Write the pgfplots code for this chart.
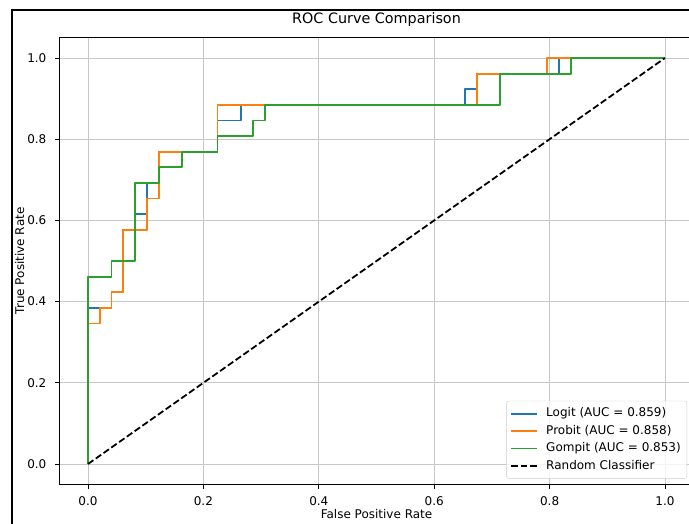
\documentclass[border=0pt]{standalone}
\usepackage{fontspec}
\setmainfont{DejaVu Sans}
\usepackage{pgfplots}
\pgfplotsset{compat=1.18}

\definecolor{logitc}{HTML}{1F77B4}
\definecolor{probitc}{HTML}{FF7F0E}
\definecolor{gompitc}{HTML}{2CA02C}
\definecolor{gridc}{HTML}{C8C8C8}

\begin{document}
\begin{tikzpicture}
\useasboundingbox (0bp,-524bp) rectangle (689bp,0bp);
% the screenshot cuts the axes off on the right, so the axis stops at the page edge
\begin{axis}[
    at={(59.15bp,-484.3bp)}, anchor=south west,
    scale only axis,
    width=629.85bp, height=446.6bp,
    xmin=-0.05, xmax=1.0416,
    ymin=-0.05, ymax=1.05,
    axis x line*=box,
    axis y line*=left,
    axis line style={black, line width=0.9bp},
    xtick={0,0.2,0.4,0.6,0.8,1},
    ytick={0,0.2,0.4,0.6,0.8,1},
    scaled ticks=false,
    xtick pos=bottom,
    tick align=outside,
    major tick length=4.2bp,
    every tick/.style={black, line width=0.9bp},
    grid=major,
    major grid style={gridc, line width=0.9bp},
    tick label style={font=\fontsize{12bp}{14bp}\selectfont,
        /pgf/number format/fixed,
        /pgf/number format/fixed zerofill,
        /pgf/number format/precision=1,
        /pgf/number format/assume math mode=true},
    xticklabel style={anchor=base, inner sep=0pt, yshift=-17.2bp},
    yticklabel style={anchor=east, inner sep=0pt, xshift=-8.4bp},
    title={ROC Curve Comparison},
    title style={font=\fontsize{14.35bp}{17bp}\selectfont,
        at={(axis description cs:0.5039,1.019)}, anchor=base, inner sep=0pt},
    xlabel={False Positive Rate},
    ylabel={True Positive Rate},
    xlabel style={font=\fontsize{12bp}{14bp}\selectfont,
        at={(axis description cs:0.5039,-0.0755)}, anchor=base, inner sep=0pt},
    ylabel style={font=\fontsize{12bp}{14bp}\selectfont,
        at={(axis description cs:-0.0558,0.5)}, anchor=base, inner sep=0pt},
    no markers,
    every axis plot/.append style={line width=1.79bp, line join=round},
    legend cell align=left,
    legend image code/.code={\draw[#1] (0bp,0bp) -- (26bp,0bp);},
    legend style={
        font=\fontsize{12bp}{14bp}\selectfont,
        at={(rel axis cs:1,0)}, anchor=south east,
        xshift=-2bp, yshift=5.5bp,
        draw=black!20, fill=white, fill opacity=0.8, text opacity=1,
        rounded corners=2.5bp,
        inner xsep=4bp, inner ysep=4bp,
        row sep=0pt,
        nodes={inner xsep=2bp, inner ysep=3.1bp, text height=8.8bp, text depth=2.4bp},
        /tikz/every odd column/.append style={column sep=6bp},
    },
]

% Logit
\addplot[logitc] coordinates {
    (0,0) (0,0.3846) (0.0408,0.3846) (0.0408,0.4231) (0.0612,0.4231)
    (0.0612,0.5769) (0.0816,0.5769) (0.0816,0.6154) (0.1020,0.6154)
    (0.1020,0.6923) (0.1224,0.6923) (0.1224,0.7692) (0.2245,0.7692)
    (0.2245,0.8462) (0.2653,0.8462) (0.2653,0.8846) (0.6531,0.8846)
    (0.6531,0.9231) (0.6735,0.9231) (0.6735,0.9615) (0.8163,0.9615)
    (0.8163,1) (1,1)
};
\addlegendentry{Logit (AUC = 0.859)}

% Probit
\addplot[probitc] coordinates {
    (0,0) (0,0.3462) (0.0204,0.3462) (0.0204,0.3846) (0.0408,0.3846)
    (0.0408,0.4231) (0.0612,0.4231) (0.0612,0.5769) (0.1020,0.5769)
    (0.1020,0.6538) (0.1224,0.6538) (0.1224,0.7692) (0.2245,0.7692)
    (0.2245,0.8846) (0.6735,0.8846) (0.6735,0.9615) (0.7959,0.9615)
    (0.7959,1) (1,1)
};
\addlegendentry{Probit (AUC = 0.858)}

% Gompit
\addplot[gompitc] coordinates {
    (0,0) (0,0.4615) (0.0408,0.4615) (0.0408,0.5000) (0.0816,0.5000)
    (0.0816,0.6923) (0.1224,0.6923) (0.1224,0.7308) (0.1633,0.7308)
    (0.1633,0.7692) (0.2245,0.7692) (0.2245,0.8077) (0.2857,0.8077)
    (0.2857,0.8462) (0.3061,0.8462) (0.3061,0.8846) (0.7143,0.8846)
    (0.7143,0.9615) (0.8367,0.9615) (0.8367,1) (1,1)
};
\addlegendentry{Gompit (AUC = 0.853)}

% chance line
\addplot[black, dash pattern=on 6.6bp off 2.9bp] coordinates {
    (0,0) (1,1)
};
\addlegendentry{Random Classifier}
\end{axis}

% screenshot frame
\draw[line width=2bp] (12bp,-524bp) -- (12bp,-9.5bp) -- (689bp,-9.5bp);
\end{tikzpicture}
\end{document}
